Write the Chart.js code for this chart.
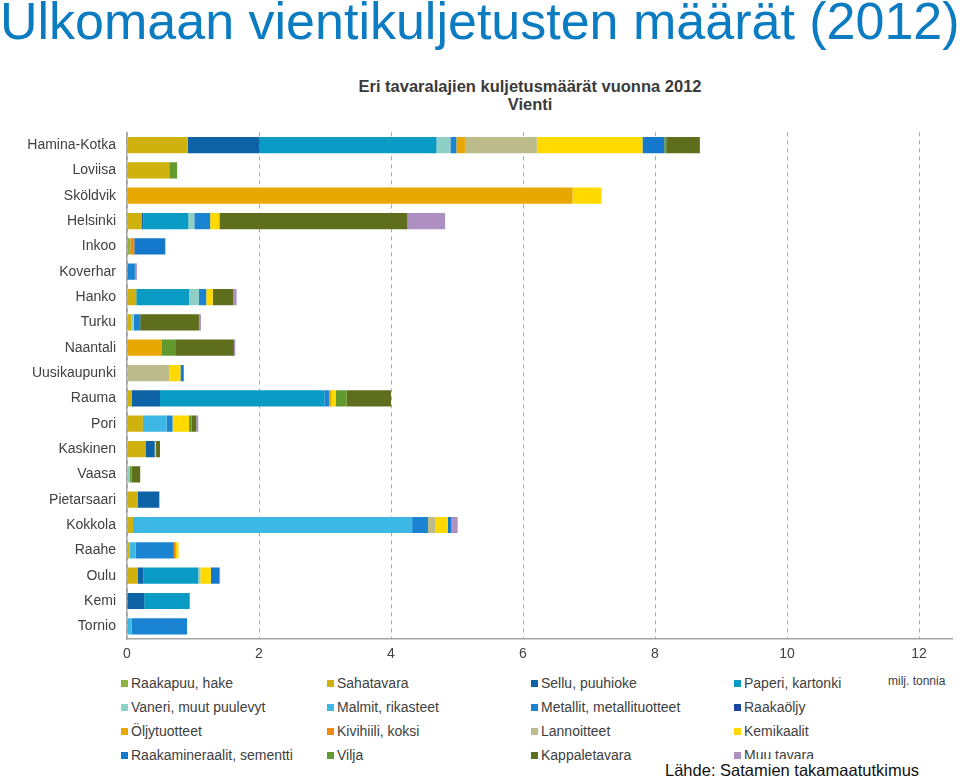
<!DOCTYPE html>
<html lang="fi">
<head>
    <meta charset="UTF-8">
    <title>Ulkomaan vientikuljetusten määrät (2012)</title>
    <script src="https://cdn.jsdelivr.net/npm/chart.js@4"></script>
    <style>
        body {
            margin: 0;
            width: 960px;
            height: 780px;
            background: #fff;
            position: relative;
            overflow: hidden;
            font-family: "Liberation Sans", Arial, sans-serif;
        }
        .main-title {
            position: absolute;
            left: 0;
            top: -9px;
            font-size: 52px;
            line-height: 60px;
            color: #0b7cc1;
            white-space: nowrap;
        }
        .chart-title {
            position: absolute;
            left: 330px;
            width: 400px;
            text-align: center;
            font-weight: bold;
            font-size: 16.5px;
            color: #3a3a3a;
        }
        .chart-wrap {
            position: absolute;
            left: 0;
            top: 113px;
            width: 960px;
            height: 557px;
        }
        .legend-item {
            position: absolute;
            font-size: 14px;
            color: #404040;
            white-space: nowrap;
            line-height: 16px;
        }
        .legend-item i {
            display: inline-block;
            width: 7px;
            height: 7px;
            margin-right: 3px;
            vertical-align: 1px;
        }
        .unit {
            position: absolute;
            left: 888px;
            top: 674px;
            font-size: 12px;
            color: #404040;
        }
        .source {
            position: absolute;
            left: 660px;
            top: 759px;
            width: 300px;
            height: 21px;
            background: #fff;
            font-size: 16.5px;
            line-height: 19px;
            padding-top: 2px;
            color: #111;
            padding-left: 5px;
        }
    </style>
</head>
<body>
    <div class="main-title">Ulkomaan vientikuljetusten määrät (2012)</div>
    <div class="chart-title" style="top:77px">Eri tavaralajien kuljetusmäärät vuonna 2012</div>
    <div class="chart-title" style="top:95px">Vienti</div>
    <div class="chart-wrap"><canvas id="exportChart"></canvas></div>
    <div id="legend"></div>
    <div class="unit">milj. tonnia</div>
    <div class="source">Lähde: Satamien takamaatutkimus</div>

    <script>
        const ports = ['Hamina-Kotka', 'Loviisa', 'Sköldvik', 'Helsinki', 'Inkoo', 'Koverhar', 'Hanko', 'Turku',
            'Naantali', 'Uusikaupunki', 'Rauma', 'Pori', 'Kaskinen', 'Vaasa', 'Pietarsaari', 'Kokkola',
            'Raahe', 'Oulu', 'Kemi', 'Tornio'];

        // milj. tonnia, same order as ports
        const raakapuu        = [0, 0, 0, 0, 0.05, 0, 0, 0, 0, 0, 0, 0, 0, 0, 0, 0, 0, 0, 0, 0];
        const sahatavara      = [0.92, 0.64, 0, 0.22, 0, 0, 0.14, 0.07, 0, 0, 0.07, 0.24, 0.28, 0, 0.16, 0.09, 0.04, 0.16, 0, 0];
        const sellu           = [1.09, 0, 0, 0.03, 0, 0, 0, 0, 0, 0, 0.43, 0, 0.14, 0, 0.33, 0, 0, 0.09, 0.26, 0];
        const paperi          = [2.68, 0, 0, 0.68, 0, 0, 0.80, 0, 0, 0, 2.49, 0, 0, 0, 0, 0, 0, 0.83, 0.69, 0];
        const vaneri          = [0.21, 0, 0, 0.09, 0, 0, 0.15, 0.03, 0, 0, 0, 0, 0, 0.04, 0, 0, 0, 0.03, 0, 0];
        const malmit          = [0, 0, 0, 0, 0, 0, 0, 0, 0, 0, 0, 0.36, 0, 0, 0, 4.23, 0.09, 0, 0, 0.07];
        const metallit        = [0.09, 0, 0, 0.24, 0, 0.12, 0.11, 0.10, 0, 0, 0.07, 0.09, 0, 0, 0, 0.24, 0.58, 0, 0, 0.84];
        const raakaoljy       = [0, 0, 0, 0, 0, 0, 0, 0, 0, 0, 0, 0, 0, 0, 0, 0, 0, 0, 0, 0];
        const oljytuotteet    = [0.13, 0, 6.75, 0, 0, 0, 0, 0, 0.52, 0, 0.04, 0, 0, 0, 0, 0, 0, 0, 0, 0];
        const kivihiili       = [0, 0, 0, 0, 0.06, 0, 0, 0, 0, 0, 0, 0, 0, 0, 0, 0, 0.03, 0, 0, 0];
        const lannoitteet     = [1.09, 0, 0, 0, 0, 0, 0, 0, 0, 0.64, 0, 0, 0, 0, 0, 0.11, 0, 0, 0, 0];
        const kemikaalit      = [1.60, 0, 0.44, 0.14, 0, 0, 0.10, 0, 0, 0.17, 0.06, 0.25, 0.02, 0, 0, 0.19, 0.04, 0.16, 0, 0];
        const raakamineraalit = [0.33, 0, 0, 0, 0.47, 0, 0, 0, 0, 0.05, 0, 0, 0, 0, 0, 0.05, 0, 0.13, 0, 0];
        const vilja           = [0.03, 0.12, 0, 0, 0, 0, 0, 0, 0.21, 0, 0.17, 0.04, 0, 0.03, 0, 0, 0, 0, 0, 0];
        const kappaletavara   = [0.51, 0, 0, 2.85, 0, 0, 0.31, 0.89, 0.89, 0, 0.67, 0.07, 0.06, 0.13, 0, 0, 0, 0, 0, 0];
        const muuTavara       = [0, 0, 0, 0.57, 0, 0.03, 0.05, 0.03, 0.02, 0, 0, 0.03, 0, 0, 0, 0.10, 0, 0.01, 0, 0];

        const xTicks = [0, 2, 4, 6, 8, 10, 12];

        const series = [
            ['Raakapuu, hake', raakapuu, '#8db43c'],
            ['Sahatavara', sahatavara, '#cfb20e'],
            ['Sellu, puuhioke', sellu, '#0e62a6'],
            ['Paperi, kartonki', paperi, '#0a9bc4'],
            ['Vaneri, muut puulevyt', vaneri, '#8fd0c6'],
            ['Malmit, rikasteet', malmit, '#3db7e4'],
            ['Metallit, metallituotteet', metallit, '#1a83d2'],
            ['Raakaöljy', raakaoljy, '#1b47a3'],
            ['Öljytuotteet', oljytuotteet, '#e9a800'],
            ['Kivihiili, koksi', kivihiili, '#ee8a10'],
            ['Lannoitteet', lannoitteet, '#bcbb8c'],
            ['Kemikaalit', kemikaalit, '#ffd900'],
            ['Raakamineraalit, sementti', raakamineraalit, '#1478cc'],
            ['Vilja', vilja, '#639a30'],
            ['Kappaletavara', kappaletavara, '#5e6e1c'],
            ['Muu tavara', muuTavara, '#ae8fc2']
        ];

        const datasets = series.map(s => ({
            label: s[0],
            data: s[1],
            backgroundColor: s[2],
            borderWidth: 0,
            categoryPercentage: 1,
            barPercentage: 0.64
        }));

        const axisGray = '#a6a6a6';

        new Chart(document.getElementById('exportChart'), {
            type: 'bar',
            data: { labels: ports, datasets: datasets },
            options: {
                indexAxis: 'y',
                responsive: true,
                maintainAspectRatio: false,
                animation: false,
                layout: { padding: { top: 6, right: 8, left: 0, bottom: 0 } },
                plugins: {
                    legend: { display: false },
                    tooltip: { enabled: false }
                },
                scales: {
                    x: {
                        stacked: true,
                        min: 0,
                        max: 12.5,
                        afterBuildTicks: axis => { axis.ticks = xTicks.map(v => ({ value: v })); },
                        ticks: {
                            padding: 7,
                            color: '#404040',
                            font: { family: '"Liberation Sans", Arial, sans-serif', size: 14 }
                        },
                        grid: { color: axisGray, drawTicks: false, lineWidth: 1 },
                        border: { color: axisGray, width: 1.5, dash: [4, 4] },
                        afterFit: axis => { axis.height = 31; }
                    },
                    y: {
                        stacked: true,
                        ticks: {
                            padding: 11,
                            color: '#404040',
                            font: { family: '"Liberation Sans", Arial, sans-serif', size: 14 }
                        },
                        grid: { display: false, drawTicks: false },
                        border: { color: axisGray, width: 1.5 },
                        afterFit: axis => { axis.width = 127; }
                    }
                }
            }
        });

        // legend in four columns, filled row by row
        const legendCols = [121, 327, 531, 734];
        const legendRows = [675, 699, 723, 747];
        const legendDiv = document.getElementById('legend');
        series.forEach((s, i) => {
            const item = document.createElement('div');
            item.className = 'legend-item';
            item.style.left = legendCols[i % 4] + 'px';
            item.style.top = legendRows[Math.floor(i / 4)] + 'px';
            item.innerHTML = `<i style="background:${s[2]}"></i>${s[0]}`;
            legendDiv.appendChild(item);
        });
    </script>
</body>
</html>
